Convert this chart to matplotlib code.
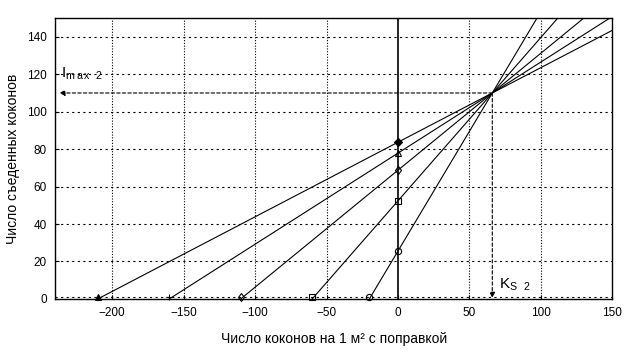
import matplotlib.pyplot as plt
import numpy as np

plt.rcParams['font.family'] = ['Liberation Sans', 'DejaVu Sans']

# x-intercepts of each line (cocoons/m2 with correction) and common point
x_int = [-210, -160, -110, -60, -20]
x_common = 66
y_common = 110
# marker symbols on the x-axis and on the y-axis (x = 0)
mk_axis = ['^', '+', 'd', 's', 'o']
mk_zero = ['D', '^', 'd', 's', 'o']
fill_axis = ['k', 'k', 'none', 'none', 'none']
fill_zero = ['k', 'none', 'none', 'none', 'none']

xticks = [-200, -150, -100, -50, 0, 50, 100, 150]
yticks = [0, 20, 40, 60, 80, 100, 120, 140]

fig = plt.figure(figsize=(6.37, 3.55), dpi=100)
ax = fig.add_axes([0.0863, 0.158, 0.875, 0.791])
ax.set_xlim(-240, 150)
ax.set_ylim(0, 150)

# grid
for x in [-200, -150, -100, -50, 50, 100]:
    ax.axvline(x, color='k', linestyle=(0, (1, 1.5)), linewidth=0.8, zorder=1)
for y in yticks:
    ax.axhline(y + (0.8 if y == 0 else 0), color='k', linestyle=(0, (2, 3)), linewidth=0.8, zorder=1)
ax.axvline(0, color='k', linewidth=1.2, zorder=2)

for i, x0 in enumerate(x_int):
    slope = y_common / (x_common - x0)
    xx = np.array([x0, 150])
    ax.plot(xx, slope * (xx - x0), color='k', linewidth=0.8, zorder=3)
    ax.plot(x0, 0.8, marker=mk_axis[i], markersize=4.5, markerfacecolor=fill_axis[i],
            markeredgecolor='k', markeredgewidth=0.8, linestyle='None', zorder=4, clip_on=False)
    ax.plot(0, slope * (0 - x0), marker=mk_zero[i], markersize=4.5, markerfacecolor=fill_zero[i],
            markeredgecolor='k', markeredgewidth=0.8, linestyle='None', zorder=4)

# dashed arrows from the common point
ax.annotate('', xy=(-237, y_common), xytext=(x_common, y_common),
            arrowprops=dict(arrowstyle='-|>', linestyle=(0, (3, 2)), color='k', lw=0.8,
                            mutation_scale=8, shrinkA=0, shrinkB=0))
ax.annotate('', xy=(x_common, 0.5), xytext=(x_common, y_common),
            arrowprops=dict(arrowstyle='-|>', linestyle=(0, (3, 2)), color='k', lw=0.8,
                            mutation_scale=8, shrinkA=0, shrinkB=0))
ax.text(-236, 116, r'I$_{\mathregular{m\,a\,x\ \ 2}}$', fontsize=11, ha='left', va='bottom')
ax.text(71, 3, r'K$_{\mathregular{S\ \ 2}}$', fontsize=11, ha='left', va='bottom')

ax.set_xticks(xticks)
ax.set_yticks(yticks)
ax.tick_params(direction='in', length=3, labelsize=8.5, pad=6)
ax.set_xlabel('Число коконов на 1 м² с поправкой', fontsize=10, labelpad=9)
ax.set_ylabel('Число съеденных коконов', fontsize=10, labelpad=5)
for s in ax.spines.values():
    s.set_linewidth(1.0)

fig.savefig('out.png', dpi=100)
